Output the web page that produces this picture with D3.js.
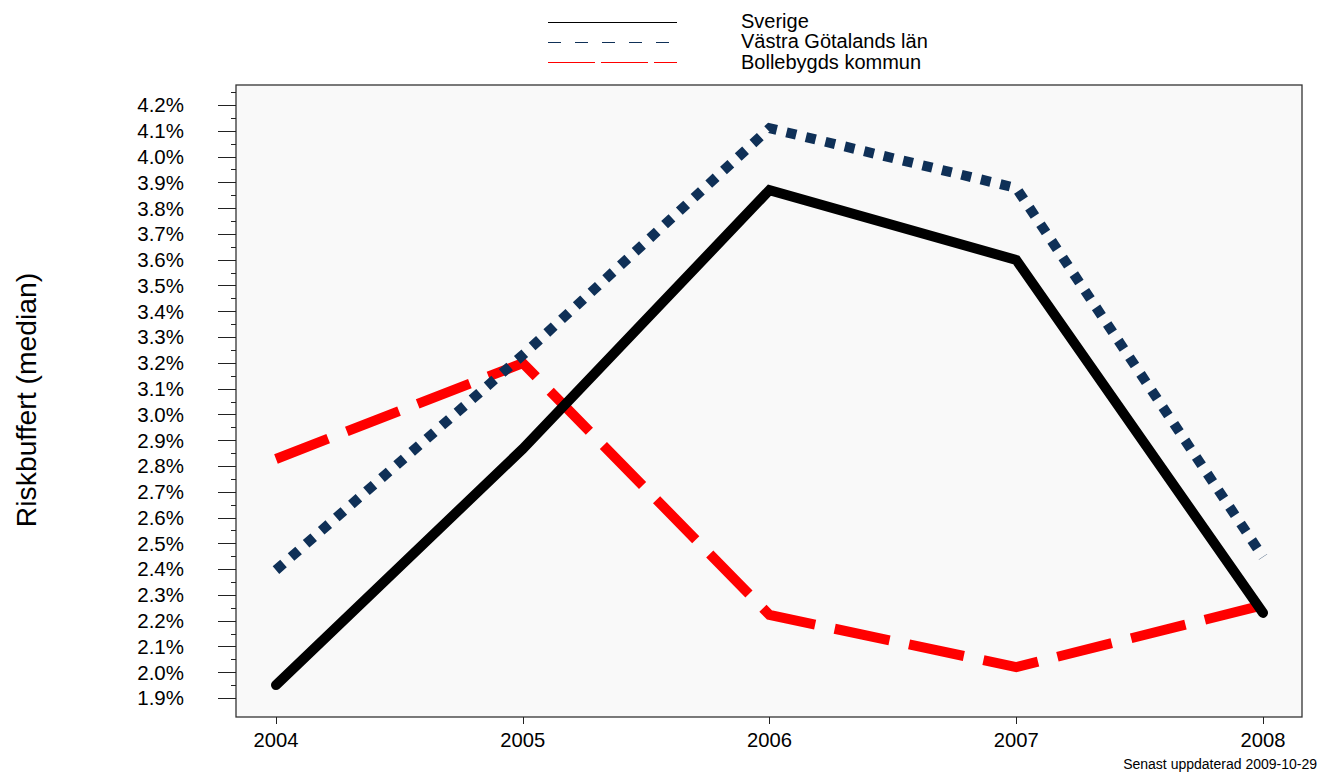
<!DOCTYPE html>
<html><head><meta charset="utf-8">
<script src="https://cdn.jsdelivr.net/npm/d3@7"></script>
<style>body{margin:0;background:#fff;}svg{display:block;font-family:"Liberation Sans",Arial,sans-serif;}</style>
</head><body>
<svg id="c" width="1320" height="773"></svg>
<script>
const years = [2004, 2005, 2006, 2007, 2008];
const sverige = [1.95, 2.866, 3.870, 3.599, 2.23];
const vastra = [2.396, 3.23, 4.11, 3.878, 2.447];
const bollebygd = [2.827, 3.199, 2.222, 2.02, 2.26];
const seriesNames = ["Sverige", "Västra Götalands län", "Bollebygds kommun"];
const yTicks = [1.9,2.0,2.1,2.2,2.3,2.4,2.5,2.6,2.7,2.8,2.9,3.0,3.1,3.2,3.3,3.4,3.5,3.6,3.7,3.8,3.9,4.0,4.1,4.2];
const yLabel = "Riskbuffert (median)";
const footnote = "Senast uppdaterad 2009-10-29";

const svg = d3.select("#c");
const L = 236, R = 1302, T = 85, B = 717;
const x = d3.scaleLinear().domain([2003.838, 2008.158]).range([L, R]);
const y = d3.scaleLinear().domain([1.8263, 4.2776]).range([B, T]);

svg.append("rect").attr("x", L).attr("y", T).attr("width", R - L).attr("height", B - T)
  .attr("fill", "#f9f9f9").attr("stroke", "#333").attr("stroke-width", 1.3);

// y axis
const minor = [];
for (let i = 0; i < yTicks.length - 1; i++) minor.push((yTicks[i] + yTicks[i+1]) / 2);
minor.push(4.25);
const yg = svg.append("g");
yg.selectAll("line.maj").data(yTicks).join("line").attr("class","maj")
  .attr("x1", 218).attr("x2", L).attr("y1", d => Math.round(y(d)) + 0.5).attr("y2", d => Math.round(y(d)) + 0.5)
  .attr("stroke", "#222").attr("stroke-width", 1);
yg.selectAll("line.min").data(minor).join("line").attr("class","min")
  .attr("x1", 231).attr("x2", L).attr("y1", d => Math.round(y(d)) + 0.5).attr("y2", d => Math.round(y(d)) + 0.5)
  .attr("stroke", "#222").attr("stroke-width", 1);
yg.selectAll("text").data(yTicks).join("text")
  .attr("x", 184).attr("y", d => y(d)).attr("dy", "0.36em").attr("text-anchor", "end")
  .attr("font-size", 20.5).attr("fill", "#000").text(d => d.toFixed(1) + "%");

// x axis
const xg = svg.append("g");
xg.selectAll("line").data(years).join("line")
  .attr("x1", d => Math.round(x(d)) + 0.5).attr("x2", d => Math.round(x(d)) + 0.5)
  .attr("y1", B).attr("y2", B + 7).attr("stroke", "#222");
xg.selectAll("text").data(years).join("text")
  .attr("x", d => x(d)).attr("y", 747).attr("text-anchor", "middle")
  .attr("font-size", 20.2).attr("fill", "#000").text(d => d);

svg.append("text").attr("transform", "translate(36,400) rotate(-90)")
  .attr("text-anchor", "middle").attr("font-size", 28.3).attr("fill", "#000").text(yLabel);

svg.append("text").attr("x", 1317).attr("y", 769).attr("text-anchor", "end")
  .attr("font-size", 14).attr("fill", "#000").text(footnote);

const line = d3.line().x((d, i) => x(years[i])).y(d => y(d));
const styles = [
  {data: sverige, color: "#000000", dash: null, cap: "round", legDash: null},
  {data: vastra, color: "#0f3057", dash: "10,10", cap: "butt", legDash: "13,14"},
  {data: bollebygd, color: "#ff0000", dash: "56,20", cap: "butt", legDash: "47,6"}
];
const drawOrder = [2, 0, 1];
drawOrder.forEach(i => {
  const s = styles[i];
  svg.append("path").datum(s.data).attr("d", line).attr("fill", "none")
    .attr("stroke", s.color).attr("stroke-width", 10)
    .attr("stroke-linecap", s.cap).attr("stroke-linejoin", "miter")
    .attr("stroke-dasharray", s.dash);
});

// legend
const lg = svg.append("g");
const legLineY = [22.5, 42.5, 62.5];
const legTextY = [27.5, 48, 68.5];
styles.forEach((s, i) => {
  lg.append("line").attr("x1", 548).attr("x2", 677).attr("y1", legLineY[i]).attr("y2", legLineY[i])
    .attr("stroke", s.color).attr("stroke-width", 1).attr("stroke-dasharray", s.legDash);
  lg.append("text").attr("x", 741).attr("y", legTextY[i])
    .attr("font-size", 20).attr("fill", "#000").text(seriesNames[i]);
});
</script>
</body></html>
